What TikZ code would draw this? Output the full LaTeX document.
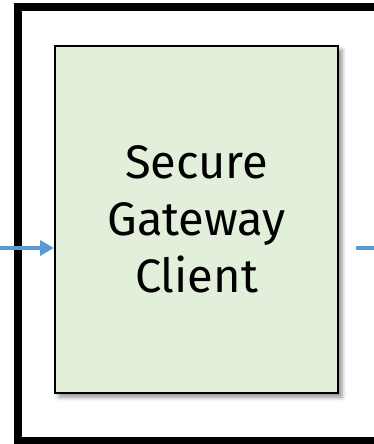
\documentclass[tikz,border=0pt]{standalone}
\usepackage{fontspec}
\setmainfont{Fira Sans}
\usetikzlibrary{arrows.meta,shadows.blur}
\definecolor{boxgreen}{HTML}{E2EFDA}
\definecolor{arrowblue}{HTML}{5B9BD5}
\tikzset{
  outerframe/.style={draw=black,line width=8pt},
  mainbox/.style={draw=black,line width=2pt,fill=boxgreen,minimum width=283pt,minimum height=347pt,
    align=center,font=\fontsize{47}{57}\selectfont,
    blur shadow={shadow xshift=4pt,shadow yshift=-4pt,shadow blur radius=4pt,shadow opacity=45}},
  flow/.style={draw=arrowblue,line width=3.5pt,-{Triangle[length=14pt,width=15pt]}},
  flowline/.style={draw=arrowblue,line width=3.5pt}
}
\begin{document}
\begin{tikzpicture}[x=1pt,y=1pt]
\useasboundingbox (0,0) rectangle (374,-444);
\clip (0,0) rectangle (374,-444);
\draw[outerframe] (18,-7) rectangle (390,-441);
\node[mainbox] (gw) at (196.5,-219.5) {Secure\\Gateway\\Client};
\coordinate (in) at (0,-248);
\draw[flow] (in) -- (gw.west |- in);
\coordinate (outa) at (356,-248);
\coordinate (outb) at (380,-248);
\draw[flowline] (outa) -- (outb);
\end{tikzpicture}
\end{document}
